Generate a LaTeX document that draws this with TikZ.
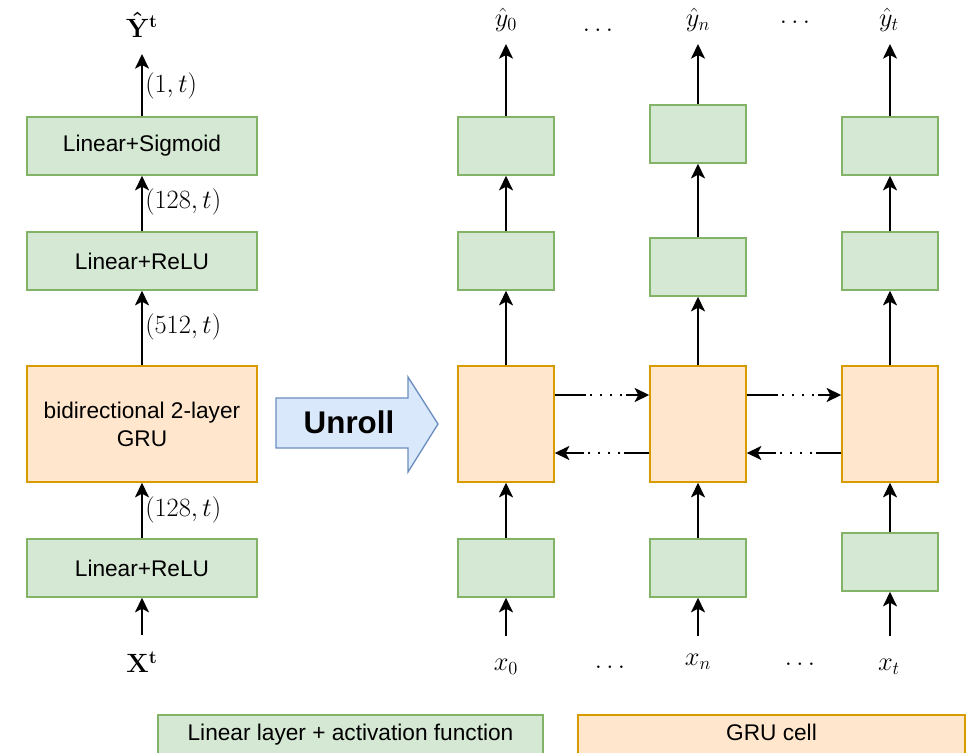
\RequirePackage{fix-cm}
\documentclass[tikz,border=0pt]{standalone}
\usepackage[no-math]{fontspec}
\usepackage{graphicx}
\setmainfont{Liberation Sans}
\usetikzlibrary{arrows.meta}
\newcommand{\mymath}[1]{\scalebox{1.1}{$#1$}}
\definecolor{gfill}{HTML}{D5E8D4}
\definecolor{gline}{HTML}{82B366}
\definecolor{ofill}{HTML}{FFE6CC}
\definecolor{oline}{HTML}{D79B00}
\definecolor{bfill}{HTML}{DAE8FC}
\definecolor{bline}{HTML}{6C8EBF}
\tikzset{
  base/.style={inner sep=0pt, font=\fontsize{17}{19}\selectfont, align=center},
  gbox/.style={base, draw=gline, fill=gfill, line width=1.1pt},
  obox/.style={base, draw=oline, fill=ofill, line width=1.1pt},
  wide/.style={minimum width=172.5pt, minimum height=43.5pt},
  widegru/.style={minimum width=172.5pt, minimum height=87pt},
  narrow/.style={minimum width=72pt, minimum height=43.5pt},
  narrowgru/.style={minimum width=72pt, minimum height=87pt},
  legend/.style={minimum height=30pt, text height=12pt, text depth=3.5pt},
  conn/.style={line width=1.4pt, -{Stealth[length=11pt, width=10.5pt, inset=2.8pt]}},
  lbl/.style={inner sep=0pt, font=\fontsize{18}{20}\selectfont},
  dotR/.style={conn, dash pattern=on 23.25pt off 3.2pt on 1.3pt off 6.2pt on 1.3pt off 6.2pt on 1.3pt off 6.2pt on 1.3pt off 3.2pt on 60pt},
  dotL/.style={conn, dash pattern=on 18.75pt off 3.2pt on 1.3pt off 6.2pt on 1.3pt off 6.2pt on 1.3pt off 6.2pt on 1.3pt off 3.2pt on 60pt},
}
\begin{document}
\begin{tikzpicture}[x=0.75pt, y=-0.75pt]
\useasboundingbox (0,0) rectangle (972,753);
\clip (0,0) rectangle (972,753);
\fill[white] (0,0) rectangle (972,753);

% ---- left column ----
\node[gbox, wide] (sig) at (142,146) {Linear+Sigmoid};
\node[gbox, wide] (relu2) at (142,261) {Linear+ReLU};
\node[obox, widegru] (gru) at (142,424) {bidirectional 2-layer\\[2pt]GRU};
\node[gbox, wide] (relu1) at (142,568) {Linear+ReLU};
\node[lbl] (Yhat) at (142,25) {\mymath{\mathbf{\hat{Y}}^{\mathbf{t}}}};
\node[lbl] (Xin) at (142,662) {\mymath{\mathbf{X}^{\mathbf{t}}}};
\coordinate (ytop) at (142,54);
\coordinate (xbot) at (142,635);
\draw[conn] (sig.north) -- (ytop);
\draw[conn] (relu2.north) -- (sig.south);
\draw[conn] (gru.north) -- (relu2.south);
\draw[conn] (relu1.north) -- (gru.south);
\draw[conn] (xbot) -- (relu1.south);
\node[lbl, anchor=west] (d1) at (145,86) {\mymath{(1,t)}};
\node[lbl, anchor=west] (d2) at (145,202) {\mymath{(128,t)}};
\node[lbl, anchor=west] (d3) at (145,327) {\mymath{(512,t)}};
\node[lbl, anchor=west] (d4) at (145,510) {\mymath{(128,t)}};

% ---- unroll arrow ----
\draw[fill=bfill, draw=bline, line width=1pt, line join=miter]
  (276,398) -- (408,398) -- (408,377) -- (438,424) -- (408,472) -- (408,448) -- (276,448) -- cycle;
\node[lbl, font=\fontsize{23.5}{26}\selectfont\bfseries] (unroll) at (349,422) {Unroll};

% ---- column 0 ----
\node[gbox, narrow] (a3) at (506,146) {};
\node[gbox, narrow] (a2) at (506,261) {};
\node[obox, narrowgru] (a1) at (506,424) {};
\node[gbox, narrow] (a0) at (506,568) {};
% ---- column n ----
\node[gbox, narrow] (b3) at (698,134) {};
\node[gbox, narrow] (b2) at (698,267) {};
\node[obox, narrowgru] (b1) at (698,424) {};
\node[gbox, narrow] (b0) at (698,568) {};
% ---- column t ----
\node[gbox, narrow] (c3) at (890,146) {};
\node[gbox, narrow] (c2) at (890,261) {};
\node[obox, narrowgru] (c1) at (890,424) {};
\node[gbox, narrow] (c0) at (890,562) {};

\foreach \c/\xx in {a/506, b/698, c/890}{
  \coordinate (\c top) at (\xx,44);
  \coordinate (\c bot) at (\xx,636);
  \draw[conn] (\c3.north) -- (\c top);
  \draw[conn] (\c2.north) -- (\c3.south);
  \draw[conn] (\c1.north) -- (\c2.south);
  \draw[conn] (\c0.north) -- (\c1.south);
  \draw[conn] (\c bot) -- (\c0.south);
}

\node[lbl] (y0) at (506,20) {\mymath{\hat{y}_0}};
\node[lbl] (yn) at (698,20) {\mymath{\hat{y}_n}};
\node[lbl] (yt) at (889,20) {\mymath{\hat{y}_t}};
\node[lbl] (td1) at (598,30) {\mymath{\ldots}};
\node[lbl] (td2) at (795,22) {\mymath{\ldots}};
\node[lbl] (x0) at (506,667) {\mymath{x_0}};
\node[lbl] (xn) at (698,662) {\mymath{x_n}};
\node[lbl] (xt) at (889,667) {\mymath{x_t}};
\node[lbl] (bd1) at (610,667) {\mymath{\ldots}};
\node[lbl] (bd2) at (800,664) {\mymath{\ldots}};

% ---- recurrent connections ----
\draw[dotR] ([yshift=21.75pt]a1.east) -- ([yshift=21.75pt]b1.west);
\draw[dotR] ([yshift=21.75pt]b1.east) -- ([yshift=21.75pt]c1.west);
\draw[dotL] ([yshift=-21.75pt]b1.west) -- ([yshift=-21.75pt]a1.east);
\draw[dotL] ([yshift=-21.75pt]c1.west) -- ([yshift=-21.75pt]b1.east);

% ---- legend ----
\node[gbox, legend, minimum width=288.75pt] (lg) at (350.5,735) {Linear layer + activation function};
\node[obox, legend, minimum width=290.25pt] (lo) at (771.5,735) {GRU cell};
\end{tikzpicture}
\end{document}
